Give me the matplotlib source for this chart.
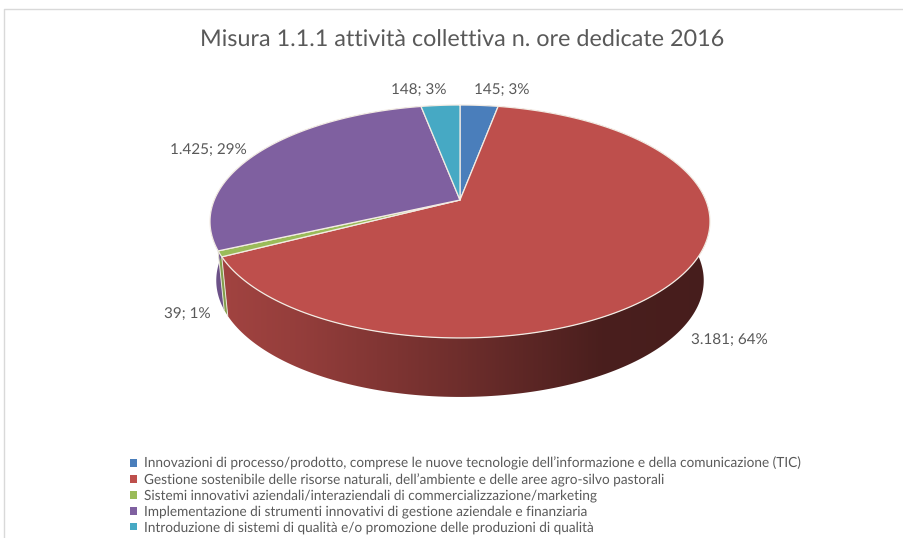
import numpy as np
import matplotlib
matplotlib.use('Agg')
import matplotlib.pyplot as plt
from matplotlib.patches import Patch, Polygon
from matplotlib.colors import to_rgb

plt.rcParams['font.family'] = ['Lato', 'DejaVu Sans']
plt.rcParams['text.hinting'] = 'no_hinting'

title = "Misura 1.1.1 attività collettiva n. ore dedicate 2016"
categories = [
    "Innovazioni di processo/prodotto, comprese le nuove tecnologie dell’informazione e della comunicazione (TIC)",
    "Gestione sostenibile delle risorse naturali, dell’ambiente e delle aree agro-silvo pastorali",
    "Sistemi innovativi aziendali/interaziendali di commercializzazione/marketing",
    "Implementazione di strumenti innovativi di gestione aziendale e finanziaria",
    "Introduzione di sistemi di qualità e/o promozione delle produzioni di qualità",
]
values = [145, 3181, 39, 1425, 148]
colors = ['#4a7ebb', '#be4f4c', '#9abb59', '#7f60a0', '#46a9c4']
label_pos = [(502, 90), (729, 340), (187, 314), (208, 150), (419, 90)]

TEXT = '#595959'
CX, CY = 460, 200
RX, H, K = 245.7, 112.5, 0.1845   # perspective of the tilted disc
DEPTH = 59
SHRINK = 0.975                    # wall narrows towards its lower rim


def project(angle):
    # angle in radians, clockwise from 12 o'clock
    x, y = np.sin(angle), np.cos(angle)
    w = 1 + K * y
    return CX + RX * x / w, CY - H * y / w


fig = plt.figure(figsize=(9.04, 5.38), dpi=100)
ax = fig.add_axes([0, 0, 1, 1])

# frame of the screenshot
ax.plot([4, 4, 904], [538, 9, 9], color='#d9d9d9', lw=1)

edges = np.cumsum([0] + values) / sum(values) * 2 * np.pi
shade = np.interp(np.linspace(210, 710, 256), [210, 300, 460, 600, 710], [0.86, 0.78, 0.58, 0.39, 0.37])

# side wall: gradient clipped to each slice, the top disc covers what is behind it
for i, col in enumerate(colors):
    t = np.linspace(edges[i], edges[i + 1], 200)
    px, py = project(t)
    bx = CX + (px - CX) * SHRINK
    wall = Polygon(np.c_[np.r_[px, bx[::-1]], np.r_[py, (py + DEPTH)[::-1]]],
                   closed=True, transform=ax.transData, facecolor='none', edgecolor='none')
    ax.add_patch(wall)
    grad = shade[None, :, None] * np.array(to_rgb(col))[None, None, :]
    im = ax.imshow(grad, extent=(210, 710, 410, 100), aspect='auto', interpolation='bilinear')
    im.set_clip_path(wall)

# dividers on the wall beside the green slice
for e in edges[2:4]:
    ex, ey = project(e)
    ax.plot([ex, CX + (ex - CX) * SHRINK], [ey, ey + DEPTH], color='#e8e4d8', lw=0.7)

# top disc
for i, col in enumerate(colors):
    t = np.linspace(edges[i], edges[i + 1], 200)
    px, py = project(t)
    ax.fill(np.r_[CX, px], np.r_[CY, py], facecolor=col, edgecolor='#f3ece4', lw=0.9, joinstyle='round')

ax.set_xlim(0, 904)
ax.set_ylim(538, 0)
ax.axis('off')

total = sum(values)
for v, (lx, ly) in zip(values, label_pos):
    txt = f"{v:,}".replace(",", ".") + f"; {v / total * 100:.0f}%"
    ax.text(lx, ly, txt, fontsize=11, color=TEXT, ha='center', va='center')

ax.text(462.5, 40, title, fontsize=16.8, color=TEXT, ha='center', va='center')

handles = [Patch(facecolor=c, edgecolor='none') for c in colors]
ax.legend(handles, categories, loc='upper left', bbox_to_anchor=(130, 457),
          bbox_transform=ax.transData, frameon=False, fontsize=9.82, labelcolor=TEXT,
          handlelength=0.5, handleheight=0.5, handletextpad=0.55, labelspacing=0.21,
          borderpad=0, borderaxespad=0)

fig.savefig('out.png', dpi=100)
